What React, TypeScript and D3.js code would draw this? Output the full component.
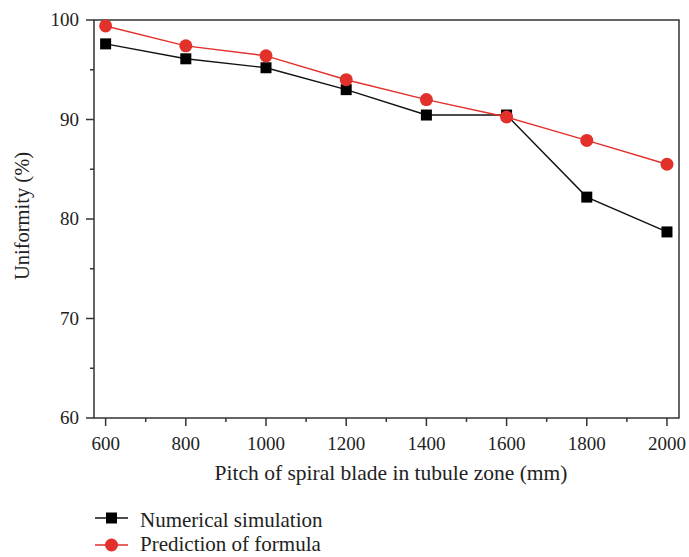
import React from 'react';
import * as d3 from 'd3';

const pitches = [600, 800, 1000, 1200, 1400, 1600, 1800, 2000];
const simulation = [97.6, 96.1, 95.2, 93.0, 90.45, 90.45, 82.2, 78.7];
const formula = [99.4, 97.4, 96.4, 94.0, 92.0, 90.25, 87.9, 85.5];
const xTicks = [600, 800, 1000, 1200, 1400, 1600, 1800, 2000];
const yTicks = [60, 70, 80, 90, 100];

const W = 689;
const H = 557;
const m = { left: 94, right: 679, top: 20, bottom: 418 };
const font = '"Liberation Serif", "DejaVu Serif", serif';
const red = '#e2302b';

const App = () => {
  const x = d3.scaleLinear().domain([571, 2030]).range([m.left, m.right]);
  const y = d3.scaleLinear().domain([60, 100]).range([m.bottom, m.top]);
  const line = d3.line<number>().x((_, i) => x(pitches[i])).y(d => y(d));
  const xMinor = d3.range(700, 2000, 200);
  const yMinor = d3.range(65, 100, 10);

  return (
    <svg width={W} height={H} style={{ position: 'absolute', left: 0, top: 0, background: '#fff' }} fontFamily={font}>
      {/* axis frame */}
      <rect x={m.left} y={m.top} width={m.right - m.left} height={m.bottom - m.top} fill="none" stroke="#333" strokeWidth={1.5} />
      {yTicks.map(t => (
        <g key={'y' + t}>
          <line x1={m.left - 8} x2={m.left} y1={y(t)} y2={y(t)} stroke="#333" strokeWidth={1.5} />
          <text x={m.left - 15} y={y(t)} dy="0.33em" textAnchor="end" fontSize={19} fill="#222">{t}</text>
        </g>
      ))}
      {yMinor.map(t => (
        <line key={'ym' + t} x1={m.left - 4} x2={m.left} y1={y(t)} y2={y(t)} stroke="#333" strokeWidth={1.5} />
      ))}
      {xTicks.map(t => (
        <g key={'x' + t}>
          <line x1={x(t)} x2={x(t)} y1={m.bottom} y2={m.bottom + 8} stroke="#333" strokeWidth={1.5} />
          <text x={x(t)} y={m.bottom + 32} textAnchor="middle" fontSize={19} fill="#222">{t}</text>
        </g>
      ))}
      {xMinor.map(t => (
        <line key={'xm' + t} x1={x(t)} x2={x(t)} y1={m.bottom} y2={m.bottom + 4} stroke="#333" strokeWidth={1.5} />
      ))}
      <text x={391} y={480} textAnchor="middle" fontSize={21.5} fill="#222">
        Pitch of spiral blade in tubule zone (mm)
      </text>
      <text transform="translate(29,216) rotate(-90)" textAnchor="middle" fontSize={20.5} fill="#222">
        Uniformity (%)
      </text>

      {/* series */}
      <path d={line(simulation) ?? ''} fill="none" stroke="#111" strokeWidth={1.4} />
      <path d={line(formula) ?? ''} fill="none" stroke={red} strokeWidth={1.4} />
      {simulation.map((v, i) => (
        <rect key={'s' + i} x={x(pitches[i]) - 5.5} y={y(v) - 5.5} width={11} height={11} fill="#000" />
      ))}
      {formula.map((v, i) => (
        <circle key={'f' + i} cx={x(pitches[i])} cy={y(v)} r={6.5} fill={red} />
      ))}

      {/* legend */}
      <line x1={95} x2={128} y1={518} y2={518} stroke="#111" strokeWidth={1.4} />
      <rect x={106} y={512.5} width={11} height={11} fill="#000" />
      <text x={140} y={527} fontSize={21} fill="#222">Numerical simulation</text>
      <line x1={95} x2={128} y1={545} y2={545} stroke={red} strokeWidth={1.4} />
      <circle cx={111.5} cy={545} r={6.5} fill={red} />
      <text x={140} y={551} fontSize={21} fill="#222">Prediction of formula</text>
    </svg>
  );
};

export default App;
